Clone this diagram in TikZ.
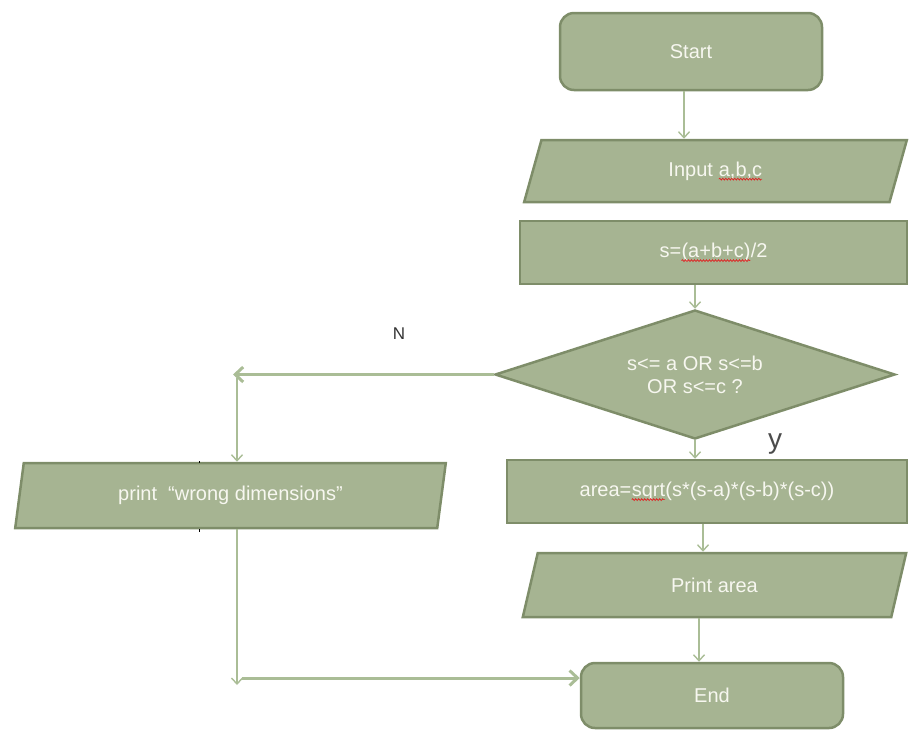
\documentclass[tikz,border=0pt]{standalone}
\usepackage{fontspec}
\setmainfont{Liberation Sans}
\usetikzlibrary{shapes.geometric,arrows.meta,decorations.pathmorphing}
\definecolor{boxfill}{HTML}{A6B492}
\definecolor{boxline}{HTML}{7E8D69}
\definecolor{conline}{HTML}{AABD96}
\definecolor{txt}{HTML}{F7F7F0}
\definecolor{spellred}{HTML}{E02020}
\newcommand\spellmark[1]{\tikz[baseline=(w.base)]{\node[shape=rectangle,draw=none,fill=none,inner sep=0pt,outer sep=0pt,minimum width=0pt,minimum height=0pt,text=txt,rounded corners=0pt] (w) {#1};
 \draw[draw=spellred,line width=0.7pt,rounded corners=0pt,decorate,decoration={snake,amplitude=0.9pt,segment length=3pt}] ([yshift=-3pt]w.base west) -- ([yshift=-3pt]w.base east);}}
\begin{document}
\begin{tikzpicture}[x=1pt,y=-1pt,
  font=\fontsize{20}{23}\selectfont,
  base/.style={fill=boxfill,draw=boxline,line width=2.5pt,text=txt,inner sep=0pt,align=center},
  term/.style={base,rectangle,rounded corners=14pt,minimum width=262pt},
  proc/.style={base,rectangle},
  io/.style={base,trapezium,trapezium left angle=76,trapezium right angle=104,trapezium stretches=true},
  decis/.style={base,diamond,shape aspect=3.1},
  conn/.style={draw=conline,line width=1.4pt,-{Straight Barb[length=6pt,width=11pt]}},
  hconn/.style={draw=conline,line width=3pt,-{Straight Barb[length=8pt,width=15pt]}},
  lab/.style={text=black!80,inner sep=0pt}]
\useasboundingbox (0,0) rectangle (909,732);

\node[term,minimum height=77pt] (start) at (691,51.5) {Start};
\node[io,minimum width=383pt,minimum height=62pt] (input) at (715.5,171) {Input \spellmark{a,b,c}};
\node[proc,minimum width=387pt,minimum height=63pt] (s) at (713.5,252.5) {s=\spellmark{(a+b+c)}/2};
\node[decis,minimum width=400pt,minimum height=129pt] (dec) at (695,374.5) {s<= a OR s<=b\\OR s<=c ?};
\node[proc,minimum width=400pt,minimum height=63pt] (area) at (707,491.5) {area=\spellmark{sqrt}(s*(s-a)*(s-b)*(s-c))};
\node[io,minimum width=385pt,minimum height=64pt] (parea) at (714.5,585) {Print area};
\node[term,minimum height=65pt] (end) at (712,695.5) {End};
\node[io,minimum width=431pt,minimum height=65pt] (pwrong) at (230.5,495.5) {print~~“wrong dimensions”};

\coordinate (nturn) at (233,374.5);
\coordinate (ntop) at (237,378);
\coordinate (lbot) at (237,685);
\coordinate (hstart) at (242,678);

\draw[conn] ([xshift=-7pt]start.south) -- ([xshift=-7pt]start.south |- input.north);
\draw[conn] (s.south -| dec.north) -- (dec.north);
\draw[hconn] (dec.west) -- (nturn);
\draw[conn] (ntop) -- (ntop |- pwrong.north);
\draw[conn] (dec.south) -- (area.north -| dec.south);
\draw[conn] ([xshift=-4pt]area.south) -- ([xshift=-4pt]area.south |- parea.north);
\draw[conn] ([xshift=-13pt]end.north |- parea.south) -- ([xshift=-13pt]end.north);
\draw[conn] (pwrong.south -| lbot) -- (lbot);
\draw[hconn] (hstart) -- (hstart -| end.west);

\node[lab,font=\fontsize{17}{20}\selectfont] (nlab) at (399,334) {N};
\node[lab,text=black!70,font=\fontsize{28}{30}\selectfont] (ylab) at (775,444) {y};

\fill[black] (198.5,460.5) rectangle (200,463);
\fill[black] (198.5,529) rectangle (200,531.5);
\end{tikzpicture}
\end{document}
